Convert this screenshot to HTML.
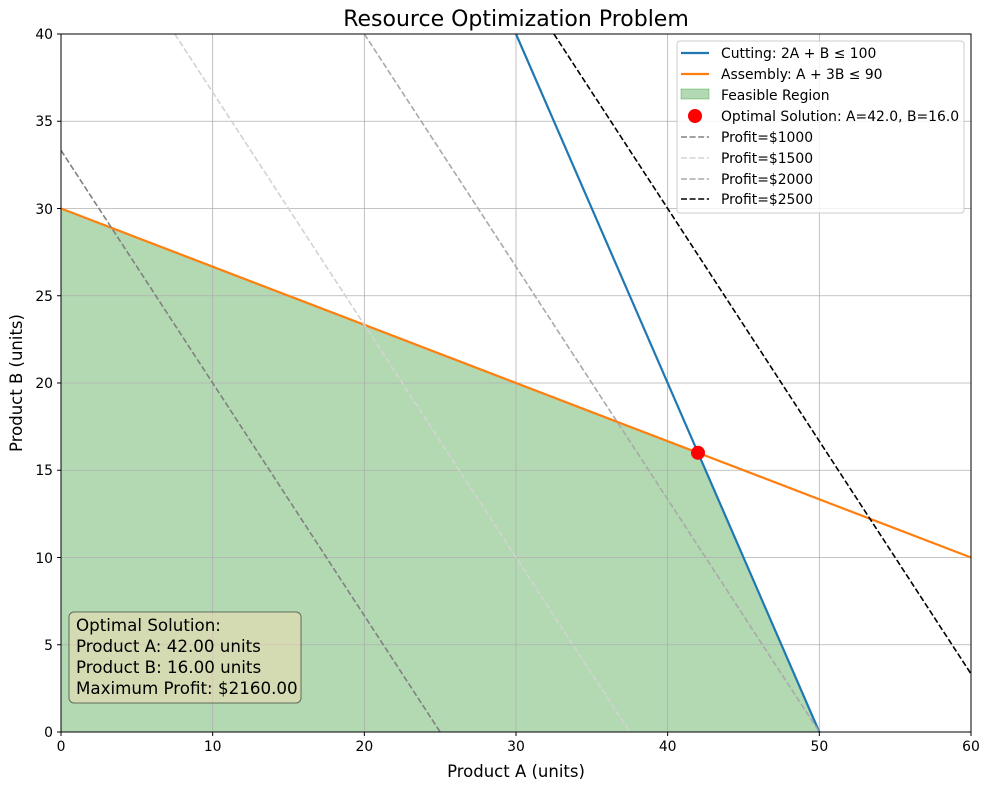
<!DOCTYPE html>
<html><head><meta charset="utf-8"><style>body{margin:0;background:#fff}svg{display:block;font-family:"DejaVu Sans","Liberation Sans",sans-serif}</style></head><body>
<svg width="989" height="790" xmlns="http://www.w3.org/2000/svg">
<defs><clipPath id="c"><rect x="61" y="34" width="910" height="698"/></clipPath></defs>
<rect width="989" height="790" fill="#fff"/>
<g clip-path="url(#c)">
<polygon points="61,732 61,208.5 698,452.8 819.33,732" fill="#008000" fill-opacity="0.3"/>
<g stroke="#b0b0b0" stroke-width="0.8">
<line x1="212.67" y1="34" x2="212.67" y2="732"/><line x1="364.33" y1="34" x2="364.33" y2="732"/><line x1="516" y1="34" x2="516" y2="732"/><line x1="667.67" y1="34" x2="667.67" y2="732"/><line x1="819.33" y1="34" x2="819.33" y2="732"/>
<line x1="61" y1="644.75" x2="971" y2="644.75"/><line x1="61" y1="557.5" x2="971" y2="557.5"/><line x1="61" y1="470.25" x2="971" y2="470.25"/><line x1="61" y1="383" x2="971" y2="383"/><line x1="61" y1="295.75" x2="971" y2="295.75"/><line x1="61" y1="208.5" x2="971" y2="208.5"/><line x1="61" y1="121.25" x2="971" y2="121.25"/>
</g>
<line x1="516" y1="34" x2="819.33" y2="732" stroke="#1f77b4" stroke-width="2.2"/>
<line x1="61" y1="208.5" x2="971" y2="557.5" stroke="#ff7f0e" stroke-width="2.2"/>
<g stroke-width="1.6" stroke-dasharray="6,2.6" fill="none">
<line x1="61" y1="150.33" x2="440.17" y2="732" stroke="#808080"/>
<line x1="174.75" y1="34" x2="629.75" y2="732" stroke="#d3d3d3"/>
<line x1="364.33" y1="34" x2="819.33" y2="732" stroke="#a9a9a9"/>
<line x1="553.92" y1="34" x2="971" y2="673.83" stroke="#000"/>
</g>
<circle cx="698" cy="452.8" r="7" fill="#ff0000"/>
</g>
<rect x="61" y="34" width="910" height="698" fill="none" stroke="#000" stroke-width="1"/>
<g font-size="13.9" fill="#000" text-anchor="middle">
<g stroke="#000"><line x1="61" y1="732" x2="61" y2="736"/><line x1="212.67" y1="732" x2="212.67" y2="736"/><line x1="364.33" y1="732" x2="364.33" y2="736"/><line x1="516" y1="732" x2="516" y2="736"/><line x1="667.67" y1="732" x2="667.67" y2="736"/><line x1="819.33" y1="732" x2="819.33" y2="736"/><line x1="971" y1="732" x2="971" y2="736"/></g>
<text x="61" y="751">0</text><text x="212.67" y="751">10</text><text x="364.33" y="751">20</text><text x="516" y="751">30</text><text x="667.67" y="751">40</text><text x="819.33" y="751">50</text><text x="971" y="751">60</text>
</g>
<g font-size="13.9" text-anchor="end">
<g stroke="#000"><line x1="57" y1="732" x2="61" y2="732"/><line x1="57" y1="644.75" x2="61" y2="644.75"/><line x1="57" y1="557.5" x2="61" y2="557.5"/><line x1="57" y1="470.25" x2="61" y2="470.25"/><line x1="57" y1="383" x2="61" y2="383"/><line x1="57" y1="295.75" x2="61" y2="295.75"/><line x1="57" y1="208.5" x2="61" y2="208.5"/><line x1="57" y1="121.25" x2="61" y2="121.25"/><line x1="57" y1="34" x2="61" y2="34"/></g>
<text x="53" y="737">0</text><text x="53" y="650">5</text><text x="53" y="563">10</text><text x="53" y="475">15</text><text x="53" y="388">20</text><text x="53" y="301">25</text><text x="53" y="214">30</text><text x="53" y="126">35</text><text x="53" y="39">40</text>
</g>
<text x="516" y="26" font-size="22" text-anchor="middle">Resource Optimization Problem</text>
<text x="516" y="777" font-size="16.5" text-anchor="middle">Product A (units)</text>
<text transform="translate(22,383) rotate(-90)" font-size="16.5" text-anchor="middle">Product B (units)</text>
<rect x="677" y="41" width="287" height="172" rx="3" fill="#fff" fill-opacity="0.8" stroke="#ccc"/>
<g font-size="13.9">
<line x1="681" y1="53" x2="709" y2="53" stroke="#1f77b4" stroke-width="2.2"/><text x="721" y="58">Cutting: 2A + B ≤ 100</text>
<line x1="681" y1="74" x2="709" y2="74" stroke="#ff7f0e" stroke-width="2.2"/><text x="721" y="79">Assembly: A + 3B ≤ 90</text>
<rect x="681" y="89" width="28" height="10" fill="#008000" fill-opacity="0.3" stroke="#008000" stroke-opacity="0.3"/><text x="721" y="100">Feasible Region</text>
<circle cx="695" cy="116" r="7" fill="#f00"/><text x="721" y="121">Optimal Solution: A=42.0, B=16.0</text>
<g stroke-width="1.6" stroke-dasharray="6,2.6"><line x1="681" y1="137" x2="709" y2="137" stroke="#808080"/><line x1="681" y1="158" x2="709" y2="158" stroke="#d3d3d3"/><line x1="681" y1="179" x2="709" y2="179" stroke="#a9a9a9"/><line x1="681" y1="199" x2="709" y2="199" stroke="#000"/></g>
<text x="721" y="142">Profit=$1000</text><text x="721" y="163">Profit=$1500</text><text x="721" y="184">Profit=$2000</text><text x="721" y="204">Profit=$2500</text>
</g>
<rect x="69" y="612" width="232" height="91" rx="5" fill="#f5deb3" fill-opacity="0.5" stroke="#000" stroke-opacity="0.5"/>
<g font-size="16.7"><text x="76" y="631">Optimal Solution:</text><text x="76" y="652">Product A: 42.00 units</text><text x="76" y="673">Product B: 16.00 units</text><text x="76" y="694">Maximum Profit: $2160.00</text></g>
</svg>
</body></html>
